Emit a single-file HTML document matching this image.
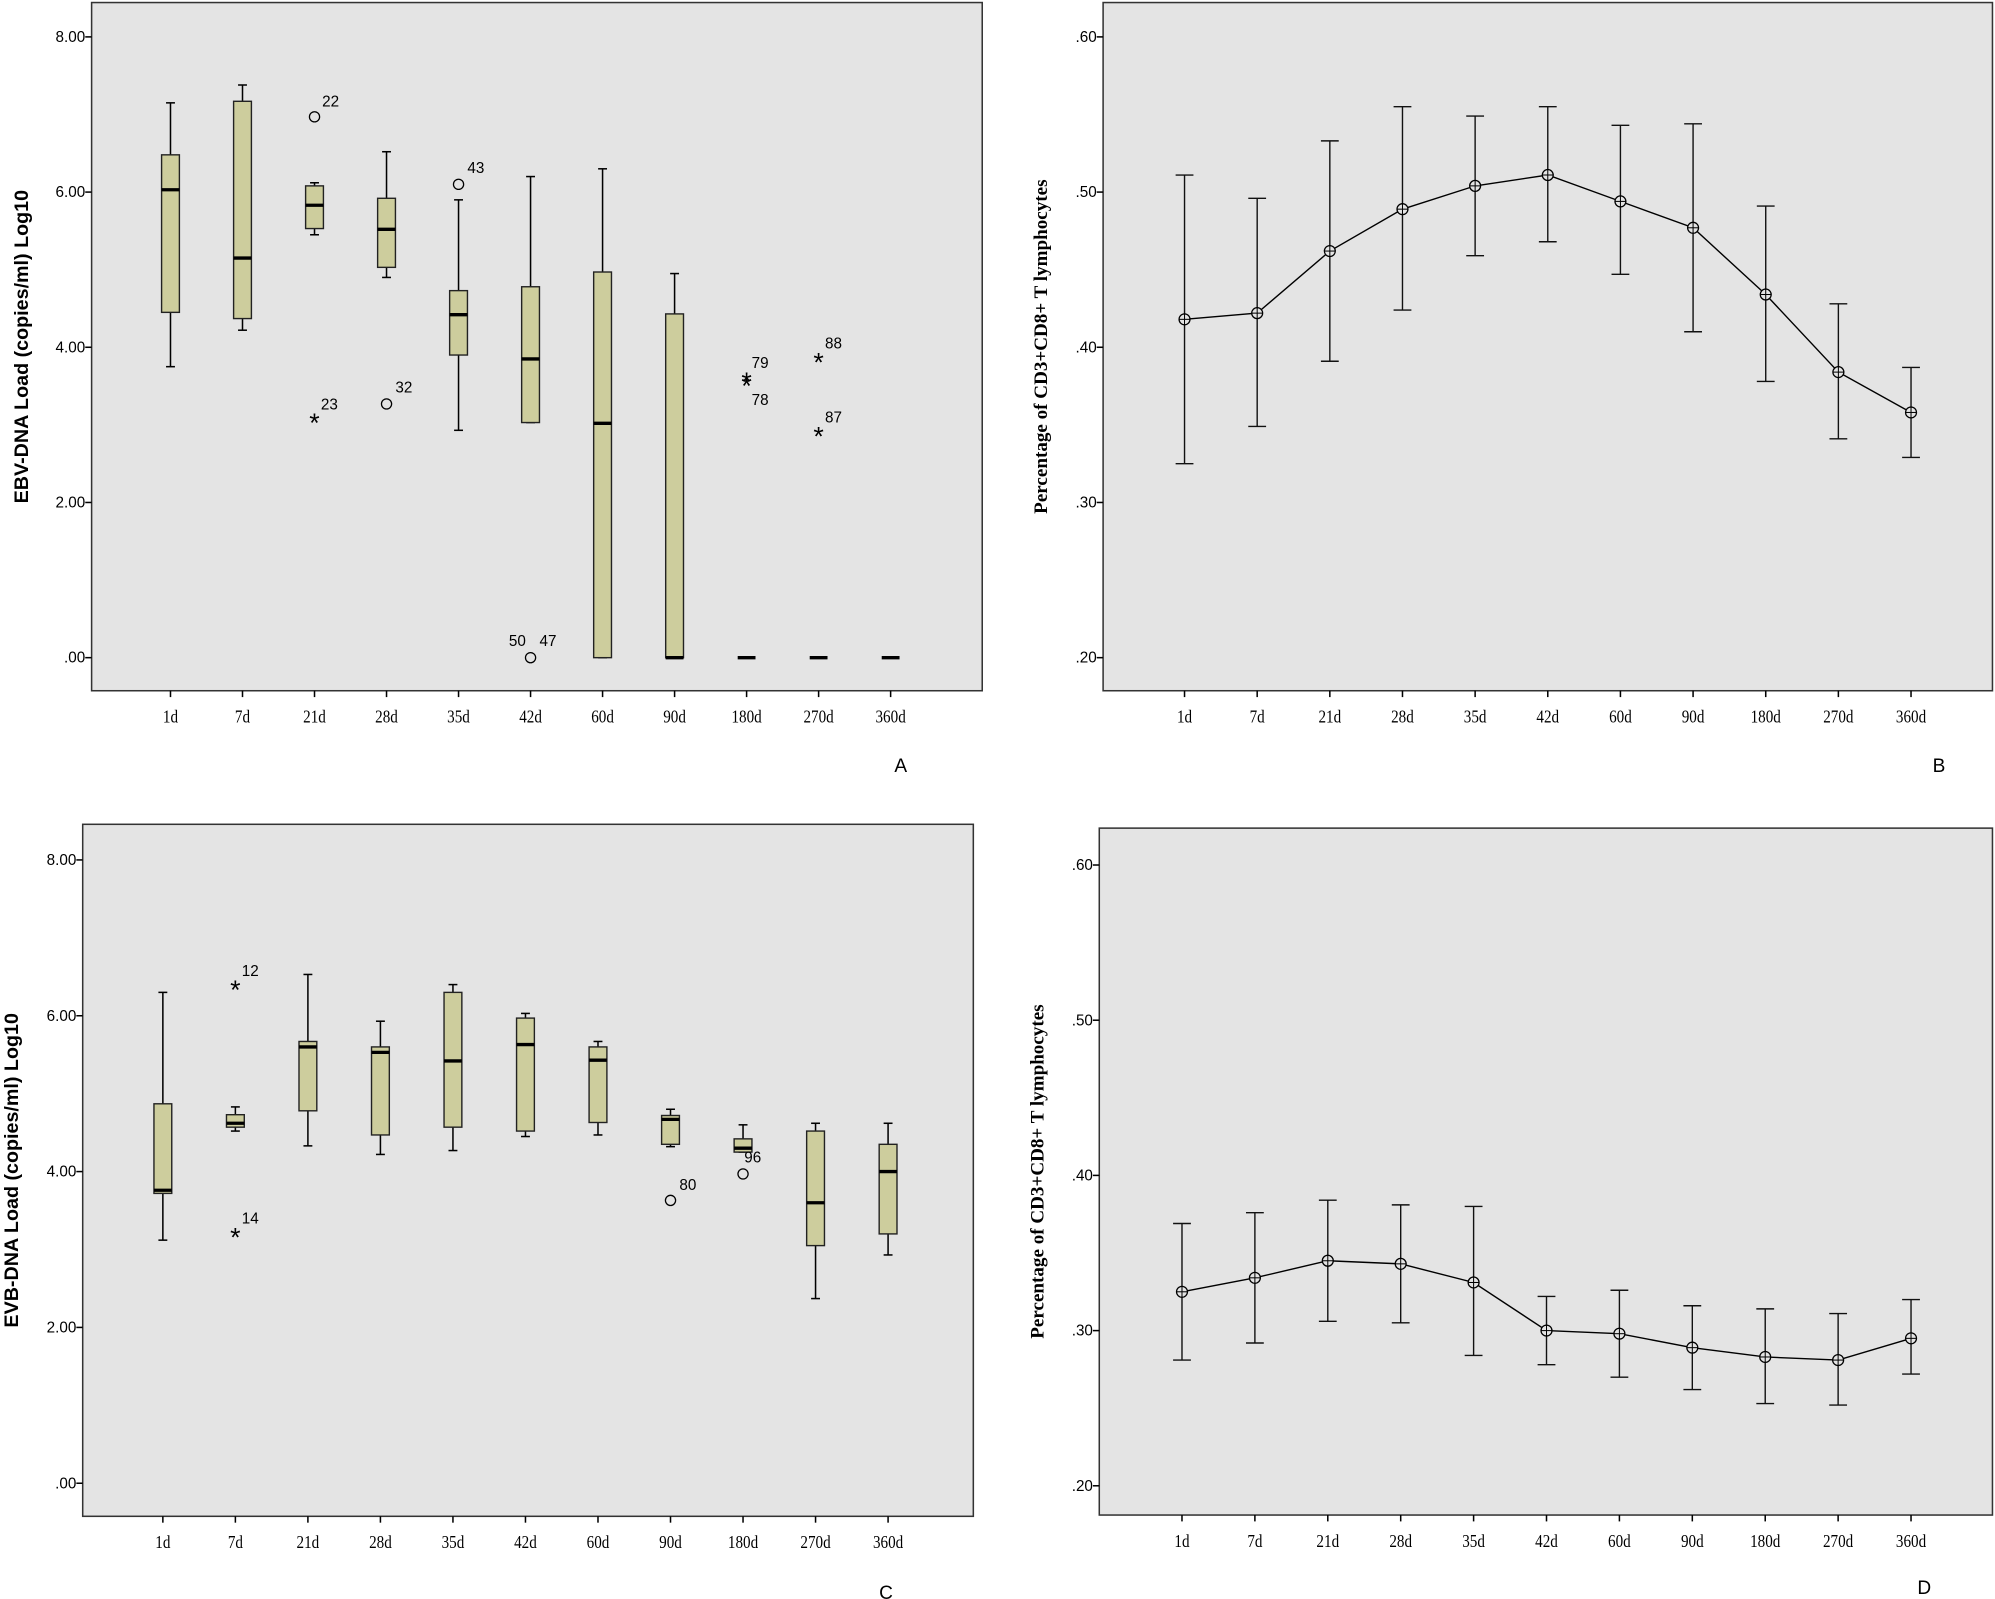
<!DOCTYPE html>
<html><head><meta charset="utf-8"><style>
html,body{margin:0;padding:0;background:#fff;}
svg{display:block;}
</style></head><body>
<svg id="s" width="1995" height="1599" viewBox="0 0 1568 1257" preserveAspectRatio="none" xmlns="http://www.w3.org/2000/svg"></svg>
<script>
const s=document.getElementById('s');
let h='';
let SP=57.3;
const cats=['1d','7d','21d','28d','35d','42d','60d','90d','180d','270d','360d'];
const sans='font-family="Liberation Sans, Arial, sans-serif"';
const serif='font-family="Liberation Serif, Times New Roman, serif"';
function frame(l,t,r,b,cx0,ticks,yl,ylabel,ylx,serifLabel,letter,lx,ly){
  h+=`<rect x="${l}" y="${t}" width="${r-l}" height="${b-t}" fill="#e4e4e4" stroke="#333" stroke-width="1.2"/>`;
  ticks.forEach(([v,y])=>{h+=`<line x1="${l-5}" y1="${y}" x2="${l}" y2="${y}" stroke="#000" stroke-width="1.2"/><text x="${l-5}" y="${y+4}" font-size="12" text-anchor="end" ${sans}>${v}</text>`;});
  cats.forEach((c,i)=>{const x=cx0+i*SP;h+=`<line x1="${x}" y1="${b}" x2="${x}" y2="${b+5}" stroke="#000" stroke-width="1.2"/><text x="${x}" y="${b+25}" font-size="14" text-anchor="middle" ${serif} transform="translate(${x},0) scale(0.85,1) translate(${-x},0)">${c}</text>`;});
  const my=(t+b)/2;
  h+=`<text x="${ylx}" y="${my}" font-size="${serifLabel?15:15.5}" font-weight="bold" text-anchor="middle" ${serifLabel?serif:sans} transform="rotate(-90 ${ylx} ${my})">${ylabel}</text>`;
  h+=`<text x="${lx}" y="${ly}" font-size="15" ${sans}>${letter}</text>`;
}
function boxes(cx0,y0,k,data){
  data.forEach((d,i)=>{
    const x=cx0+i*SP, Y=v=>y0-v*k;
    if(d.w){h+=`<line x1="${x}" y1="${Y(d.w[0])}" x2="${x}" y2="${Y(d.w[1])}" stroke="#000" stroke-width="1.2"/>`;
      d.w.forEach(v=>{h+=`<line x1="${x-3.5}" y1="${Y(v)}" x2="${x+3.5}" y2="${Y(v)}" stroke="#000" stroke-width="1.2"/>`;});}
    if(d.b){h+=`<rect x="${x-7}" y="${Y(d.b[1])}" width="14" height="${Y(d.b[0])-Y(d.b[1])}" fill="#cdcd9d" stroke="#222" stroke-width="1.1"/>`;}
    h+=`<line x1="${x-7}" y1="${Y(d.m)}" x2="${x+7}" y2="${Y(d.m)}" stroke="#000" stroke-width="2.6"/>`;
    (d.o||[]).forEach(([t,v,lab,dx,dy])=>{
      if(t=='c')h+=`<circle cx="${x}" cy="${Y(v)}" r="4" fill="none" stroke="#000" stroke-width="1"/>`;
      else h+=`<text x="${x}" y="${Y(v)+10}" font-size="21" text-anchor="middle" ${sans}>*</text>`;
      if(lab)h+=`<text x="${x+dx}" y="${Y(v)+dy}" font-size="12" ${sans}>${lab}</text>`;
    });
  });
}
function means(cx0,y0,k,data){
  const Y=v=>y0-(v-0.2)*k; let pts=[];
  data.forEach((d,i)=>{const x=cx0+i*SP;pts.push(x+','+Y(d[0]));
    h+=`<line x1="${x}" y1="${Y(d[1])}" x2="${x}" y2="${Y(d[2])}" stroke="#111" stroke-width="1.1"/>`;
    [d[1],d[2]].forEach(v=>{h+=`<line x1="${x-7}" y1="${Y(v)}" x2="${x+7}" y2="${Y(v)}" stroke="#111" stroke-width="1.1"/>`;});});
  h+=`<polyline points="${pts.join(' ')}" fill="none" stroke="#000" stroke-width="1.1"/>`;
  data.forEach((d,i)=>{const x=cx0+i*SP,y=Y(d[0]);h+=`<circle cx="${x}" cy="${y}" r="4.3" fill="#e4e4e4" stroke="#000" stroke-width="1"/><line x1="${x-4.3}" y1="${y}" x2="${x+4.3}" y2="${y}" stroke="#000" stroke-width="0.8"/><line x1="${x}" y1="${y-4.3}" x2="${x}" y2="${y+4.3}" stroke="#000" stroke-width="0.8"/>`;});
}
// Panel A
SP=56.6;
const kA=(517-29)/8;
frame(72,2,772,543,134,[['8.00',29],['6.00',151],['4.00',273],['2.00',395],['.00',517]],0,'EBV-DNA Load (copies/ml) Log10',22,false,'A',703,607);
boxes(134,517,kA,[
 {w:[3.75,7.15],b:[4.45,6.48],m:6.03},
 {w:[4.22,7.38],b:[4.37,7.17],m:5.15},
 {w:[5.45,6.12],b:[5.53,6.08],m:5.83,o:[['c',6.97,'22',6,-8],['s',3.07,'23',5,-8]]},
 {w:[4.9,6.52],b:[5.03,5.92],m:5.52,o:[['c',3.27,'32',7,-9]]},
 {w:[2.93,5.9],b:[3.9,4.73],m:4.42,o:[['c',6.1,'43',7,-9]]},
 {w:[3.03,6.2],b:[3.03,4.78],m:3.85,o:[['c',0,'',0,0]]},
 {w:[0,6.3],b:[0,4.97],m:3.02},
 {w:[0,4.95],b:[0,4.43],m:0},
 {m:0,o:[['s',3.6,'79',4,-8],['s',3.55,'78',4,18]]},
 {m:0,o:[['s',3.85,'88',5,-8],['s',2.9,'87',5,-8]]},
 {m:0}]);
h+=`<text x="400" y="508" font-size="12" ${sans}>50</text><text x="424" y="508" font-size="12" ${sans}>47</text>`;
// Panel B
SP=57.1;
frame(867,2,1566,543,931,[['.60',29],['.50',151],['.40',273],['.30',395],['.20',517]],0,'Percentage of CD3+CD8+ T lymphocytes',823,true,'B',1519,607);
means(931,517,1220,[[.418,.325,.511],[.422,.349,.496],[.462,.391,.533],[.489,.424,.555],[.504,.459,.549],[.511,.468,.555],[.494,.447,.543],[.477,.410,.544],[.434,.378,.491],[.384,.341,.428],[.358,.329,.387]]);
// Panel C
SP=57.0;
const kC=(1166-676)/8;
frame(65,648,765,1192,128,[['8.00',676],['6.00',798.5],['4.00',921],['2.00',1043.5],['.00',1166]],0,'EVB-DNA Load (copies/ml) Log10',14,false,'C',691,1257);
boxes(128,1166,kC,[
 {w:[3.12,6.3],b:[3.72,4.87],m:3.76},
 {w:[4.52,4.83],b:[4.57,4.73],m:4.62,o:[['s',6.38,'12',5,-8],['s',3.2,'14',5,-8]]},
 {w:[4.33,6.53],b:[4.78,5.67],m:5.6},
 {w:[4.22,5.93],b:[4.47,5.6],m:5.53},
 {w:[4.27,6.4],b:[4.57,6.3],m:5.42},
 {w:[4.45,6.03],b:[4.52,5.97],m:5.63},
 {w:[4.47,5.67],b:[4.63,5.6],m:5.43},
 {w:[4.32,4.8],b:[4.35,4.72],m:4.67,o:[['c',3.63,'80',7,-8]]},
 {w:[4.25,4.6],b:[4.25,4.42],m:4.3,o:[['c',3.97,'96',1,-9]]},
 {w:[2.37,4.62],b:[3.05,4.52],m:3.6},
 {w:[2.93,4.62],b:[3.2,4.35],m:4.0}]);
// Panel D
SP=57.3;
frame(864,651,1566,1191,929,[['.60',680],['.50',802],['.40',924],['.30',1046],['.20',1168]],0,'Percentage of CD3+CD8+ T lymphocytes',820,true,'D',1507,1253);
means(929,1168,1220,[[.325,.281,.369],[.334,.292,.376],[.345,.306,.384],[.343,.305,.381],[.331,.284,.380],[.300,.278,.322],[.298,.270,.326],[.289,.262,.316],[.283,.253,.314],[.281,.252,.311],[.295,.272,.320]]);
s.innerHTML=h;
</script>
</body></html>
